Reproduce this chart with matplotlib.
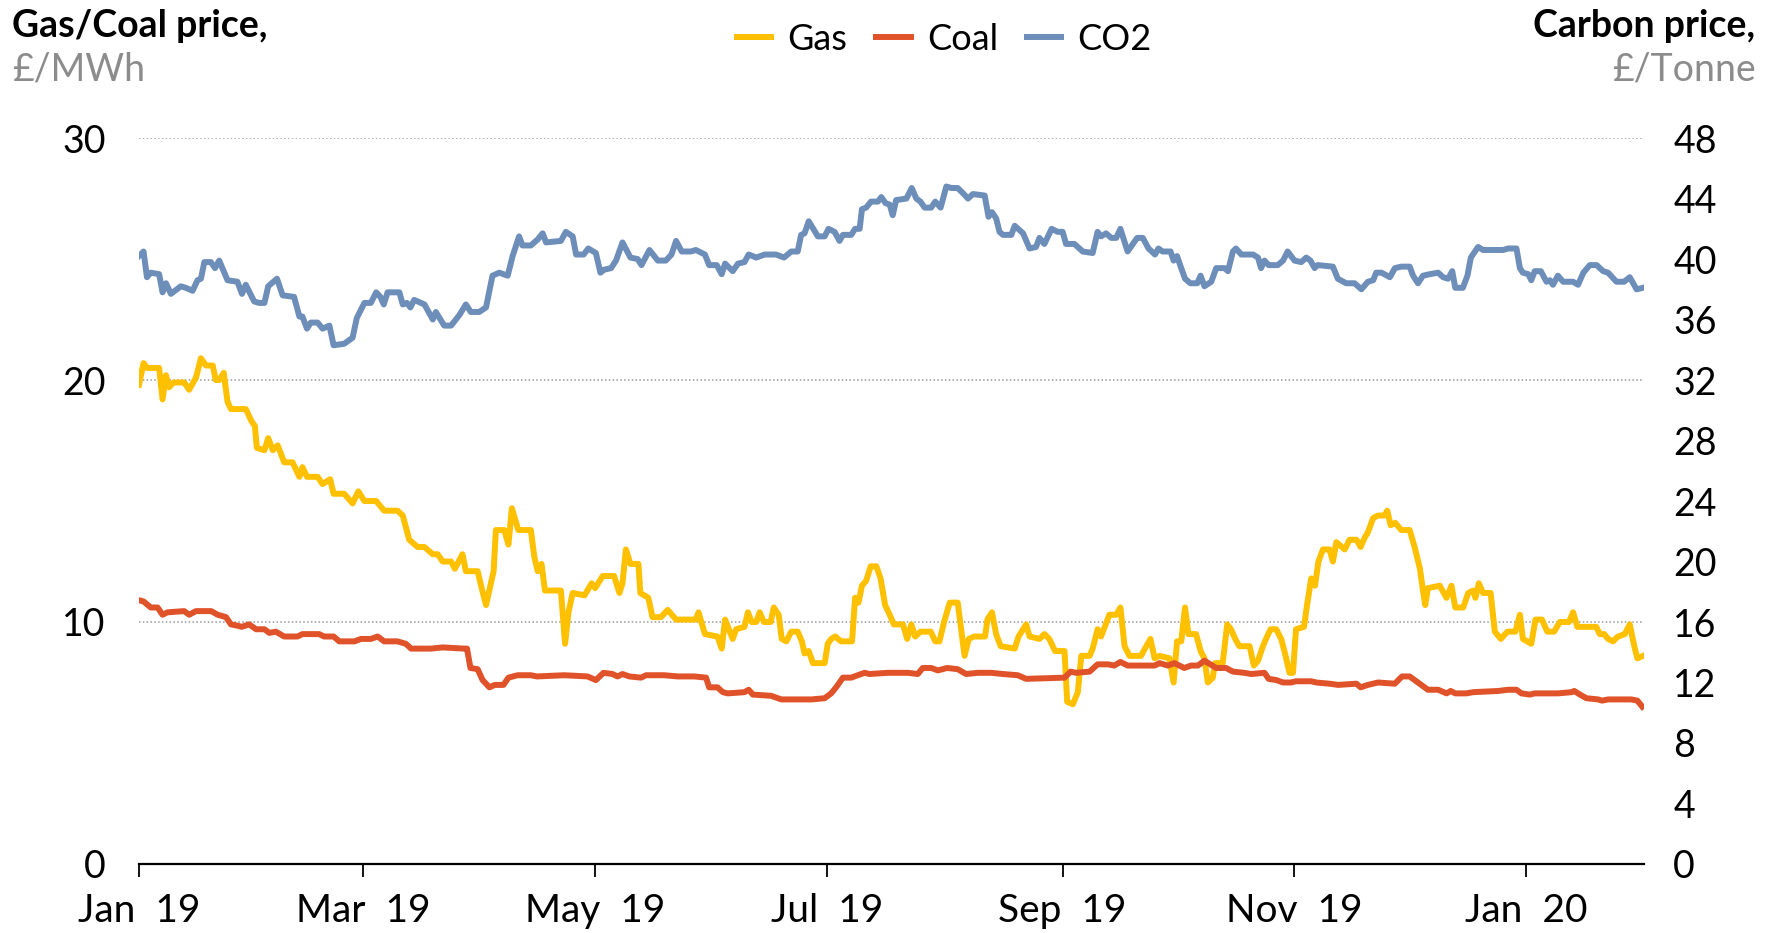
import matplotlib
matplotlib.use('Agg')
import matplotlib.pyplot as plt
import matplotlib.dates as mdates
import pandas as pd

plt.rcParams['font.family'] = ['Lato', 'DejaVu Sans']

# days since 1 Jan 2019
gas_days = [0, 1.2, 2.2, 5.3, 6.2, 7.1, 7.9, 9.1, 11.9, 13.2,
            15, 16.3, 17.6, 19.4, 20.2, 21.1, 22.3, 23.3, 24.2, 28.1,
            29.6, 30.5, 31, 33, 34, 35.2, 36.5, 38.2, 40.4, 42.2,
            43, 44.2, 47, 48.3, 50.3, 51.2, 54, 56.2, 57.7, 59.3,
            62.4, 64.5, 68, 69.4, 71.1, 73.3, 75.1, 77.3, 78.6, 79.9,
            82.1, 83.1, 85.1, 86, 89.1, 90, 91.3, 93.3, 93.9, 96.1,
            97.2, 98.1, 99.8, 103.1, 104, 104.9, 105.9, 106.8, 111, 112.1,
            113, 114.1, 117.2, 119.1, 120, 122, 125, 126.4, 127.2, 128.1,
            129.3, 131.4, 131.9, 134, 135.1, 137.3, 139.1, 141.3, 146.5, 147.2,
            148.9, 152.2, 153.3, 154.2, 156.2, 157.1, 159.3, 160.2, 161.2, 162.4,
            163.3, 164.4, 166.2, 167, 168.3, 169.1, 170.3, 171.6, 173.3, 174.4,
            175.1, 176.2, 177.3, 180.4, 181.2, 182.1, 183.2, 184.7, 187.6, 188.4,
            189.3, 190.2, 191.3, 192.5, 194, 195.1, 196.3, 197.5, 198.6, 201,
            202.1, 203.2, 204.2, 205.6, 208.3, 209.5, 210.6, 211.8, 213.3, 215.4,
            217.2, 218.3, 219.7, 222.6, 223.2, 224.4, 225.5, 226.7, 230.4, 231.4,
            233.4, 234.3, 236.9, 238.2, 239.5, 241, 243.5, 244.2, 245.7, 247,
            247.9, 250.1, 250.9, 252.2, 253.1, 255.3, 257.1, 258.2, 259.3, 260.6,
            263.6, 265, 266.1, 267.2, 268.5, 271.1, 272.2, 273.1, 274.2, 275.2,
            276.1, 278.1, 279.3, 280.3, 281.2, 282.5, 283.1, 285.1, 286.3, 287.3,
            288.4, 289.5, 292.2, 293.3, 294.4, 295.7, 296.5, 297.7, 299.2, 300.5,
            301.5, 302.7, 303.6, 304.4, 306.5, 307.3, 308.4, 309.4, 310.3, 311.5,
            313.2, 314.1, 315, 317.2, 318.5, 320.3, 321.4, 322.5, 323.3, 324.7,
            326, 327.7, 328.4, 329.3, 330.5, 332.1, 334.3, 335.6, 337, 337.8,
            338.4, 339.1, 342.2, 344, 345.3, 346.3, 348.4, 349.7, 351, 351.6,
            352.5, 353.6, 355.6, 356.7, 358.3, 360, 362.1, 363.3, 364.1, 366.3,
            367.4, 369.1, 370.5, 372.3, 373.8, 376.2, 377.3, 378.4, 383.4, 384.3,
            385.5, 386.5, 387.8, 389.1, 390.9, 392.2, 393.4, 394.2, 395.7]
gas = [19.8, 20.7, 20.5, 20.5, 19.2, 20.2, 19.7, 19.9, 19.9, 19.6,
       20.1, 20.9, 20.6, 20.6, 20.0, 20.0, 20.3, 19.1, 18.8, 18.8,
       18.3, 18.1, 17.2, 17.1, 17.6, 17.1, 17.3, 16.6, 16.6, 16.0,
       16.4, 16.0, 16.0, 15.7, 15.9, 15.3, 15.3, 14.9, 15.4, 15.0,
       15.0, 14.6, 14.6, 14.4, 13.4, 13.1, 13.1, 12.8, 12.8, 12.5,
       12.5, 12.2, 12.8, 12.1, 12.1, 11.5, 10.7, 12.1, 13.8, 13.8,
       13.2, 14.7, 13.8, 13.8, 12.7, 12.1, 12.4, 11.3, 11.3, 9.1,
       10.4, 11.2, 11.1, 11.6, 11.4, 11.9, 11.9, 11.2, 11.6, 13.0,
       12.4, 12.4, 11.2, 11.0, 10.2, 10.2, 10.5, 10.1, 10.1, 10.4,
       9.5, 9.4, 8.9, 10.1, 9.3, 9.7, 9.8, 10.4, 10.0, 10.0,
       10.4, 10.0, 10.0, 10.6, 10.3, 9.3, 9.2, 9.6, 9.6, 9.2,
       8.7, 8.8, 8.3, 8.3, 9.1, 9.3, 9.4, 9.2, 9.2, 11.0,
       10.8, 11.5, 11.7, 12.3, 12.3, 11.8, 10.7, 10.3, 9.9, 9.9,
       9.3, 9.9, 9.4, 9.6, 9.6, 9.2, 9.2, 10.0, 10.8, 10.8,
       8.6, 9.3, 9.4, 9.4, 10.1, 10.4, 9.5, 9.0, 8.9, 9.4,
       9.9, 9.4, 9.3, 9.5, 9.3, 8.8, 8.8, 6.7, 6.6, 7.1,
       8.6, 8.6, 8.9, 9.7, 9.4, 10.3, 10.3, 10.6, 9.0, 8.6,
       8.6, 9.0, 9.3, 8.5, 8.6, 8.5, 7.5, 9.2, 9.2, 10.6,
       9.5, 9.5, 8.8, 8.5, 7.5, 7.7, 8.3, 8.3, 9.9, 9.7,
       9.3, 9.0, 9.0, 8.2, 8.4, 9.0, 9.3, 9.7, 9.7, 9.3,
       8.7, 7.9, 7.9, 9.7, 9.8, 10.7, 11.8, 11.5, 12.5, 13.0,
       13.0, 12.5, 13.3, 13.0, 13.4, 13.4, 13.1, 13.5, 13.7, 14.3,
       14.4, 14.4, 14.6, 14.0, 14.1, 13.8, 13.8, 13.1, 12.2, 11.3,
       10.7, 11.4, 11.5, 11.0, 11.5, 10.6, 10.6, 11.2, 11.3, 11.0,
       11.6, 11.2, 11.2, 9.6, 9.3, 9.6, 9.6, 10.3, 9.3, 9.1,
       10.1, 10.1, 9.6, 9.6, 10.0, 10.0, 10.4, 9.8, 9.8, 9.5,
       9.5, 9.3, 9.2, 9.4, 9.5, 9.9, 9.0, 8.5, 8.6]

coal_days = [0, 1.2, 3.1, 4.9, 6.2, 7.5, 11.9, 13.2, 15, 19,
             20.7, 22.9, 24.2, 25.9, 27, 29, 30.8, 33, 34.3, 36,
             38.2, 41.7, 43, 47.4, 48.7, 51.2, 52.7, 56.7, 58.4, 61,
             62.8, 64.5, 68, 70.2, 71.6, 73.3, 76.8, 79.9, 85.6, 86.3,
             87.2, 89.1, 90.4, 92.2, 93.6, 95.9, 97.2, 99.6, 103.1, 104.7,
             111.9, 118, 120.2, 122.2, 124.6, 125.9, 127.2, 129, 132.1, 133.4,
             138.2, 141.7, 146.1, 149.2, 150, 152.2, 153.6, 154.9, 159.3, 160.4,
             161.5, 166.3, 169, 176.9, 180.4, 182.1, 183.4, 185.2, 187.4, 189.1,
             190.9, 192.2, 197, 202.3, 204.9, 206.2, 208.4, 210.2, 212.6, 215.4,
             217.6, 220.7, 224.2, 227.3, 231.2, 233.4, 243.5, 245.1, 246.5, 250.1,
             252.2, 254.9, 256.6, 258.2, 260.1, 267.2, 268.5, 270.7, 272.4, 275,
             276.8, 278.6, 280.3, 283.4, 286, 287.8, 290.8, 292.6, 296.1, 297.2,
             299.2, 301, 303.1, 304.4, 308.4, 309.7, 313.2, 315.5, 320.3, 321.4,
             323.3, 326, 330.4, 332.3, 334.3, 336.5, 339.1, 341.8, 344, 345.1,
             346.3, 349.2, 351, 357.6, 360.2, 362.4, 363.7, 365.9, 367.2, 370.7,
             373.3, 376.9, 377.6, 379.1, 380.8, 383.9, 384.9, 386.5, 390, 392.6,
             394.2, 395.5]
coal = [10.9, 10.85, 10.6, 10.6, 10.3, 10.4, 10.45, 10.3, 10.45, 10.45,
        10.3, 10.2, 9.9, 9.85, 9.8, 9.9, 9.7, 9.7, 9.55, 9.6,
        9.4, 9.4, 9.5, 9.5, 9.4, 9.4, 9.2, 9.2, 9.3, 9.3,
        9.4, 9.2, 9.2, 9.1, 8.9, 8.9, 8.9, 8.95, 8.9, 8.9,
        8.1, 8.05, 7.6, 7.3, 7.4, 7.4, 7.7, 7.8, 7.8, 7.75,
        7.8, 7.75, 7.6, 7.9, 7.85, 7.75, 7.85, 7.75, 7.7, 7.8,
        7.8, 7.75, 7.75, 7.7, 7.3, 7.3, 7.1, 7.05, 7.1, 7.2,
        7.0, 6.95, 6.8, 6.8, 6.85, 7.05, 7.3, 7.7, 7.7, 7.8,
        7.9, 7.85, 7.9, 7.9, 7.85, 8.1, 8.1, 8.0, 8.1, 8.05,
        7.85, 7.9, 7.9, 7.85, 7.8, 7.65, 7.7, 7.95, 7.9, 7.95,
        8.25, 8.25, 8.2, 8.35, 8.2, 8.2, 8.3, 8.2, 8.3, 8.1,
        8.2, 8.2, 8.4, 8.1, 8.1, 7.95, 7.9, 7.85, 7.9, 7.65,
        7.6, 7.5, 7.5, 7.55, 7.55, 7.5, 7.45, 7.4, 7.45, 7.3,
        7.4, 7.5, 7.45, 7.75, 7.75, 7.5, 7.2, 7.2, 7.05, 7.15,
        7.05, 7.05, 7.1, 7.15, 7.2, 7.2, 7.05, 7.0, 7.05, 7.05,
        7.05, 7.1, 7.15, 7.0, 6.85, 6.8, 6.75, 6.8, 6.8, 6.8,
        6.75, 6.5]

co2_days = [0, 1.2, 2.1, 3.1, 5.3, 6.2, 7.1, 8.4, 11, 12.3,
            14.1, 15.4, 16.3, 17.2, 18.9, 20, 21.1, 23.3, 25.9, 27.1,
            28.1, 30.3, 31.6, 33, 34, 36.3, 37.8, 40.8, 42.2, 43,
            44.2, 45.2, 47, 48.3, 50.1, 51.2, 54, 56.2, 57.3, 59.3,
            61, 62.4, 63.5, 64.4, 65.4, 68.5, 69.4, 70.5, 71.4, 72.4,
            75.1, 77.3, 78.1, 80.3, 82.1, 84.3, 86, 87.3, 89.5, 91.3,
            93, 94.8, 97, 98.3, 100, 100.9, 103.1, 104.9, 106.2, 107.1,
            111, 112.3, 114.1, 115, 117, 118.2, 120.2, 121.4, 122.4, 124.2,
            125.5, 127.2, 129.3, 131.2, 132.2, 134.3, 136.5, 138.6, 140.1, 141.3,
            142.8, 145.2, 146.5, 148.9, 150, 152, 153.3, 154.2, 156.2, 157.6,
            159.3, 160.4, 162.4, 164.6, 167.6, 169.7, 171.6, 173.3, 174.2, 175.1,
            176.2, 178.6, 180.4, 181.4, 183, 184.3, 185.2, 187.4, 188.4, 189.6,
            190.2, 191.3, 192.6, 194.4, 195.3, 196.4, 197.5, 198.3, 199.2, 201.9,
            203.3, 204.5, 205.6, 206.7, 208.4, 209.5, 210.9, 212.4, 213.7, 215.4,
            217, 218.1, 219.4, 222.5, 223.5, 224.4, 225.5, 226.4, 227.3, 229.5,
            230.4, 232.6, 234.3, 236, 236.9, 238.2, 240.1, 241.7, 243, 243.9,
            246.1, 248.3, 250.9, 252.2, 253.1, 254.4, 255.8, 257.1, 258.2, 260.1,
            262.6, 264.1, 265.6, 267.3, 268.2, 269.3, 271.4, 272.2, 273.1, 274.2,
            275.2, 276.6, 278.4, 279.3, 280.3, 282.1, 283.4, 285.6, 286.5, 287.8,
            288.6, 290, 293.1, 294.4, 295.2, 296.1, 297.2, 299.6, 301, 302.2,
            304, 305.8, 307.1, 308.2, 309.3, 310.1, 314.1, 315.4, 317.6, 319.8,
            321.6, 323.3, 324.7, 325.5, 326.9, 329.1, 330.4, 332.1, 334.3, 335.2,
            336.5, 337.8, 339.6, 341.8, 343.1, 344.4, 345.5, 346.3, 348.3, 349.5,
            350.4, 352.3, 353.6, 358.9, 360.2, 362.4, 363.3, 364.1, 365.5, 366.3,
            367.2, 368.8, 370.3, 371.2, 372, 373.3, 374.7, 377.3, 378.6, 380,
            381.7, 383.5, 385.2, 386.5, 388.7, 390.7, 392.2, 394, 395.7]
co2 = [40.2, 40.5, 38.8, 39.1, 39.0, 37.8, 38.4, 37.7, 38.2, 38.1,
       37.9, 38.6, 38.7, 39.8, 39.8, 39.4, 39.9, 38.6, 38.5, 37.7,
       38.3, 37.2, 37.1, 37.1, 38.2, 38.7, 37.6, 37.5, 36.2, 36.2,
       35.4, 35.8, 35.8, 35.4, 35.6, 34.3, 34.4, 34.8, 36.1, 37.1,
       37.1, 37.8, 37.5, 37.0, 37.8, 37.8, 37.0, 37.1, 36.8, 37.3,
       37.0, 36.0, 36.5, 35.6, 35.6, 36.3, 37.0, 36.5, 36.5, 36.8,
       38.9, 39.1, 38.9, 40.2, 41.5, 40.9, 40.9, 41.3, 41.7, 41.1,
       41.2, 41.8, 41.5, 40.3, 40.3, 40.7, 40.4, 39.1, 39.3, 39.4,
       39.9, 41.1, 40.1, 40.0, 39.6, 40.6, 39.9, 39.9, 40.3, 41.2,
       40.5, 40.5, 40.6, 40.3, 39.6, 39.6, 39.0, 39.7, 39.2, 39.7,
       39.8, 40.3, 40.1, 40.3, 40.3, 40.1, 40.5, 40.5, 41.6, 41.7,
       42.5, 41.5, 41.5, 42.0, 41.8, 41.2, 41.6, 41.6, 42.0, 42.0,
       43.3, 43.4, 43.8, 43.8, 44.1, 43.7, 43.6, 42.9, 43.9, 44.0,
       44.7, 44.0, 43.8, 43.4, 43.4, 43.8, 43.4, 44.8, 44.7, 44.7,
       44.3, 44.0, 44.3, 44.2, 42.8, 43.1, 42.7, 41.8, 41.6, 41.6,
       42.2, 41.7, 40.7, 40.8, 41.4, 41.0, 42.0, 41.8, 41.8, 41.0,
       41.0, 40.5, 40.4, 41.8, 41.5, 41.7, 41.4, 41.4, 42.0, 40.5,
       41.4, 41.4, 40.7, 40.3, 40.7, 40.5, 40.5, 39.9, 40.2, 39.4,
       38.7, 38.4, 38.4, 38.9, 38.2, 38.5, 39.4, 39.4, 39.2, 40.5,
       40.7, 40.3, 40.3, 40.1, 39.4, 39.9, 39.6, 39.6, 39.9, 40.5,
       39.9, 39.8, 40.1, 39.9, 39.4, 39.6, 39.5, 38.7, 38.4, 38.4,
       38.0, 38.5, 38.6, 39.1, 39.1, 38.8, 39.4, 39.5, 39.5, 38.9,
       38.4, 38.9, 39.0, 39.1, 38.8, 38.7, 39.2, 38.1, 38.1, 38.9,
       40.1, 40.8, 40.6, 40.6, 40.7, 40.7, 39.4, 39.1, 39.0, 38.6,
       39.2, 39.2, 38.5, 38.6, 38.3, 38.9, 38.5, 38.5, 38.3, 39.1,
       39.6, 39.6, 39.2, 39.1, 38.5, 38.5, 38.8, 38.0, 38.1]

left_ticks = [0, 10, 20, 30]
right_ticks = [0, 4, 8, 12, 16, 20, 24, 28, 32, 36, 40, 44, 48]

start = pd.Timestamp('2019-01-01')


def to_dates(days):
    return start + pd.to_timedelta(days, unit='D')


GAS_C = '#FFC000'
COAL_C = '#E0532A'
CO2_C = '#6E8EBA'
GREY = '#8C8C8C'
FS = 27

fig = plt.figure(figsize=(17.75, 9.33), dpi=100)
ax = fig.add_axes([0.0783, 0.074, 0.848, 0.778])
ax2 = ax.twinx()

l_gas, = ax.plot(to_dates(gas_days), gas, color=GAS_C, lw=4.3, label='Gas')
l_coal, = ax.plot(to_dates(coal_days), coal, color=COAL_C, lw=4.3, label='Coal')
l_co2, = ax2.plot(to_dates(co2_days), co2, color=CO2_C, lw=4.3, label='CO2')

ax.set_xlim(start, start + pd.Timedelta(days=396))
ax.set_ylim(0, 30)
ax2.set_ylim(0, 48)
ax.set_yticks(left_ticks)
ax2.set_yticks(right_ticks)

ax.grid(axis='y', color='#9a9a9a', linestyle=(0, (1, 1.5)), lw=1.1)
ax.set_axisbelow(True)

for a in (ax, ax2):
    for s in ('top', 'left', 'right'):
        a.spines[s].set_visible(False)
ax2.spines['bottom'].set_visible(False)
ax.spines['bottom'].set_linewidth(1.6)

ax.xaxis.set_major_locator(mdates.MonthLocator(bymonth=[1, 3, 5, 7, 9, 11]))
ax.xaxis.set_major_formatter(mdates.DateFormatter('%b  %y'))
ax.tick_params(axis='x', direction='out', length=9, width=1.3, pad=12, labelsize=28)
ax.tick_params(axis='y', length=0, pad=24, labelsize=FS)
ax2.tick_params(axis='y', length=0, pad=21, labelsize=FS)

fig.legend(handles=[l_gas, l_coal, l_co2], loc='center', bbox_to_anchor=(0.532, 0.958),
           ncol=3, frameon=False, fontsize=26, handlelength=0.95,
           handletextpad=0.45, columnspacing=0.8)

fig.text(0.007, 0.972, 'Gas/Coal price,', fontsize=FS, fontweight='bold', va='center', ha='left')
fig.text(0.007, 0.926, '£/MWh', fontsize=FS, color=GREY, va='center', ha='left')
fig.text(0.989, 0.972, 'Carbon price,', fontsize=FS, fontweight='bold', va='center', ha='right')
fig.text(0.989, 0.926, '£/Tonne', fontsize=FS, color=GREY, va='center', ha='right')

fig.savefig('out.png', dpi=100)
